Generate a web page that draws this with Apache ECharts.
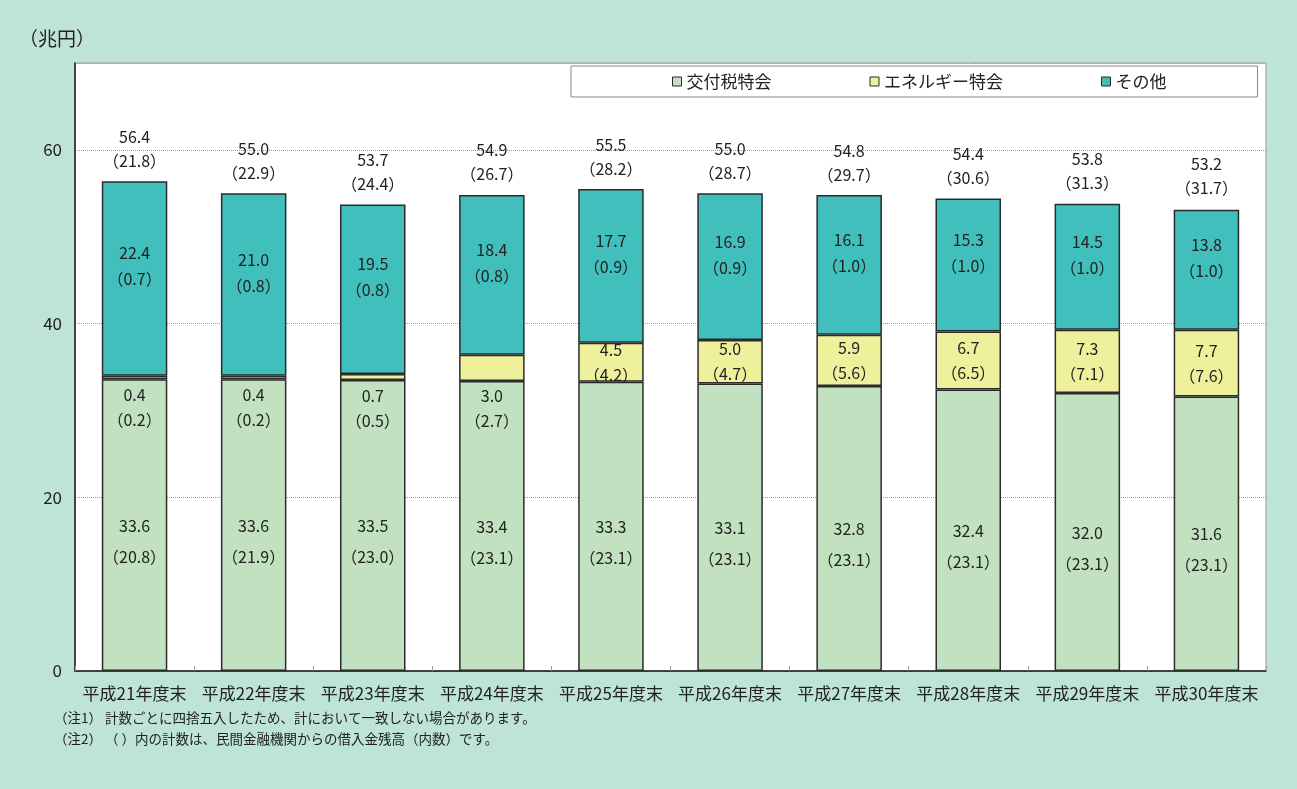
<!DOCTYPE html>
<html>
<head>
<meta charset="utf-8">
<script src="https://cdn.jsdelivr.net/npm/echarts@6/dist/echarts.min.js"></script>
<style>
html,body{margin:0;padding:0;background:#bee3d7;}
#c{width:1297px;height:789px;}
</style>
</head>
<body>
<div id="c"></div>
<script>
const categories = ['平成21年度末','平成22年度末','平成23年度末','平成24年度末','平成25年度末','平成26年度末','平成27年度末','平成28年度末','平成29年度末','平成30年度末'];
const kofuzei = [33.6, 33.6, 33.5, 33.4, 33.3, 33.1, 32.8, 32.4, 32.0, 31.6];
const kofuzeiPriv = [20.8, 21.9, 23.0, 23.1, 23.1, 23.1, 23.1, 23.1, 23.1, 23.1];
const energy = [0.4, 0.4, 0.7, 3.0, 4.5, 5.0, 5.9, 6.7, 7.3, 7.7];
const energyPriv = [0.2, 0.2, 0.5, 2.7, 4.2, 4.7, 5.6, 6.5, 7.1, 7.6];
const other = [22.4, 21.0, 19.5, 18.4, 17.7, 16.9, 16.1, 15.3, 14.5, 13.8];
const otherPriv = [0.7, 0.8, 0.8, 0.8, 0.9, 0.9, 1.0, 1.0, 1.0, 1.0];
const total = [56.4, 55.0, 53.7, 54.9, 55.5, 55.0, 54.8, 54.4, 53.8, 53.2];
const totalPriv = [21.8, 22.9, 24.4, 26.7, 28.2, 28.7, 29.7, 30.6, 31.3, 31.7];
const seriesNames = ['交付税特会', 'エネルギー特会', 'その他'];
const yTicks = [0, 20, 40, 60];

const FONT = '"Noto Sans CJK JP", "Noto Sans", sans-serif';
const fmt = v => v.toFixed(1);
const two = (vals, priv) => p => fmt(vals[p.dataIndex]) + '\n（' + fmt(priv[p.dataIndex]) + '）';
const barBorder = { borderColor: '#2b2b2b', borderWidth: 1.5 };
const lbl = { show: true, color: '#222', fontSize: 16, fontFamily: FONT };

const chart = echarts.init(document.getElementById('c'), null, { renderer: 'canvas' });
chart.setOption({
  backgroundColor: '#bee3d7',
  animation: false,
  textStyle: { fontFamily: FONT },
  grid: { left: 75, right: 31, top: 63, bottom: 118, show: true, backgroundColor: '#ffffff', borderColor: '#9a9a9a', borderWidth: 1 },
  legend: {
    data: seriesNames,
    left: 571, top: 66,
    padding: [7, 91, 7, 101],
    itemGap: 98, itemWidth: 9, itemHeight: 9,
    icon: 'rect',
    backgroundColor: '#ffffff', borderColor: '#8a8a8a', borderWidth: 1,
    textStyle: { fontSize: 17, color: '#222', fontFamily: FONT },
    itemStyle: { borderColor: '#2b2b2b', borderWidth: 1 }
  },
  xAxis: {
    type: 'category', data: categories,
    axisLine: { lineStyle: { color: '#1a1a1a', width: 1.5 } },
    axisTick: { show: true, inside: true, length: 5, interval: 0, lineStyle: { color: '#999' } },
    axisLabel: { fontSize: 17, color: '#222', margin: 14, interval: 0, fontFamily: FONT }
  },
  yAxis: {
    type: 'value', min: 0, max: 70, interval: 20,
    axisLine: { show: true, lineStyle: { color: '#1a1a1a', width: 1.5 } },
    axisTick: { show: false },
    axisLabel: { fontSize: 17, color: '#222', margin: 13, fontFamily: FONT,
      formatter: v => yTicks.includes(v) ? String(v) : '' },
    splitLine: { show: true, lineStyle: { color: '#999', type: 'dotted', width: 1 } }
  },
  graphic: [
    { type: 'text', left: 19, top: 29, style: { text: '（兆円）', font: '19px ' + FONT, fill: '#222' } },
    { type: 'text', left: 54, top: 711, style: { text: '（注1） 計数ごとに四捨五入したため、計において一致しない場合があります。', font: '13.5px ' + FONT, fill: '#222' } },
    { type: 'text', left: 54, top: 732, style: { text: '（注2） （ ）内の計数は、民間金融機関からの借入金残高（内数）です。', font: '13.5px ' + FONT, fill: '#222' } }
  ],
  series: [
    {
      name: seriesNames[0], type: 'bar', stack: 'a', barWidth: '55%', data: kofuzei,
      itemStyle: Object.assign({ color: '#c2e1c0' }, barBorder),
      label: Object.assign({}, lbl, { position: 'inside', offset: [0, 16], lineHeight: 31, formatter: two(kofuzei, kofuzeiPriv) })
    },
    {
      name: seriesNames[1], type: 'bar', stack: 'a', data: energy.map(v => v < 4 ? {
        value: v, label: { position: 'bottom', distance: 3 } } : { value: v }),
      itemStyle: Object.assign({ color: '#eff09b' }, barBorder),
      label: Object.assign({}, lbl, { position: 'inside', lineHeight: 25, formatter: two(energy, energyPriv) })
    },
    {
      name: seriesNames[2], type: 'bar', stack: 'a', data: other,
      itemStyle: Object.assign({ color: '#41bfbc' }, barBorder),
      label: Object.assign({}, lbl, { position: 'inside', offset: [0, -12], lineHeight: 26, formatter: two(other, otherPriv) })
    },
    {
      name: '計', type: 'line', data: total, symbol: 'circle', symbolSize: 1,
      itemStyle: { color: 'rgba(0,0,0,0)' }, lineStyle: { opacity: 0 },
      label: Object.assign({}, lbl, { position: 'top', distance: 8, lineHeight: 24, formatter: two(total, totalPriv) }),
      z: 10
    }
  ]
});
</script>
</body>
</html>
